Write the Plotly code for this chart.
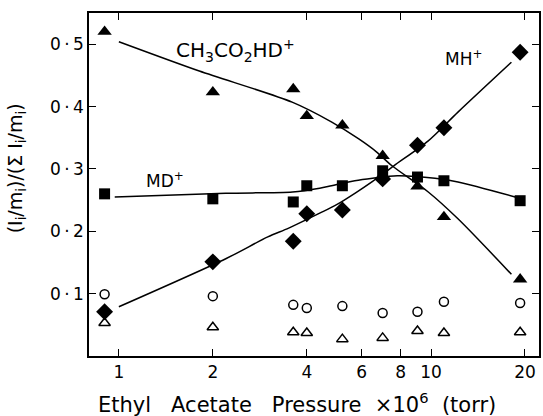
import plotly.graph_objects as go

# Data
pressure = [0.9, 2.0, 3.62, 4.0, 5.2, 7.0, 9.05, 11.0, 19.3]
ch3co2hd = [0.520, 0.423, 0.428, 0.385, 0.370, 0.321, 0.272, 0.223, 0.123]
mh = [0.071, 0.151, 0.184, 0.228, 0.234, 0.284, 0.338, 0.366, 0.487]
md = [0.260, 0.252, 0.247, 0.273, 0.273, 0.297, 0.287, 0.281, 0.249]
open_circle = [0.099, 0.096, 0.082, 0.077, 0.080, 0.069, 0.071, 0.087, 0.085]
open_triangle = [0.053, 0.046, 0.038, 0.037, 0.027, 0.029, 0.040, 0.037, 0.038]

# Hand-drawn smooth curves
fit_ch3_x = [1.0, 1.81, 3.59, 4.81, 5.87, 6.7, 7.5, 9.8, 12.2, 18.1]
fit_ch3_y = [0.504, 0.457, 0.407, 0.375, 0.348, 0.327, 0.305, 0.263, 0.220, 0.131]
fit_mh_x = [1.0, 2.2, 3.0, 3.5, 4.4, 5.0, 5.75, 6.5, 7.6, 9.8, 12.2, 18.1]
fit_mh_y = [0.079, 0.156, 0.191, 0.205, 0.229, 0.243, 0.262, 0.280, 0.305, 0.345, 0.391, 0.471]
fit_md_x = [0.97, 2.2, 3.6, 4.4, 4.8, 5.7, 6.5, 7.8, 10.3, 12.2, 18.6]
fit_md_y = [0.255, 0.261, 0.263, 0.269, 0.273, 0.281, 0.285, 0.289, 0.285, 0.279, 0.255]

x_ticks = [1, 2, 4, 6, 8, 10, 20]
y_ticks = [0.1, 0.2, 0.3, 0.4, 0.5]
y_ticktext = ["0\u2009·\u20091", "0\u2009·\u20092", "0\u2009·\u20093", "0\u2009·\u20094", "0\u2009·\u20095"]

FONT = "DejaVu Sans"

fig = go.Figure()

for fx, fy in [(fit_ch3_x, fit_ch3_y), (fit_mh_x, fit_mh_y), (fit_md_x, fit_md_y)]:
    fig.add_trace(go.Scatter(x=fx, y=fy, mode="lines",
                             line=dict(color="black", width=1.5, shape="spline", smoothing=0.8),
                             hoverinfo="skip"))

fig.add_trace(go.Scatter(x=pressure, y=open_circle, mode="markers",
                         marker=dict(symbol="circle-open", size=9, color="black",
                                     line=dict(width=1.5, color="black"))))
fig.add_trace(go.Scatter(x=pressure, y=open_triangle, mode="markers",
                         marker=dict(symbol="triangle-up-open", size=10, color="black",
                                     line=dict(width=1.5, color="black"))))
fig.add_trace(go.Scatter(x=pressure, y=md, mode="markers",
                         marker=dict(symbol="square", size=11, color="black")))
fig.add_trace(go.Scatter(x=pressure, y=ch3co2hd, mode="markers",
                         marker=dict(symbol="triangle-up", size=12.5, color="black")))
fig.add_trace(go.Scatter(x=pressure, y=mh, mode="markers",
                         marker=dict(symbol="diamond", size=13, color="black")))

axis_common = dict(showgrid=False, zeroline=False, showline=True, linecolor="black",
                   linewidth=1.5, mirror="allticks", ticks="inside", ticklen=7,
                   tickwidth=1.2, tickcolor="black",
                   tickfont=dict(family=FONT, size=17, color="black"))

fig.update_xaxes(type="log", range=[-0.0957, 1.346], tickvals=x_ticks,
                 ticktext=[str(v) for v in x_ticks], **axis_common)
fig.update_yaxes(range=[0.0, 0.55], tickvals=y_ticks, ticktext=y_ticktext, **axis_common)

annotations = [
    dict(text="CH<sub>3</sub>CO<sub>2</sub>HD<sup>+</sup>", x=0.325, y=0.892, size=20),
    dict(text="MH<sup>+</sup>", x=0.832, y=0.869, size=17),
    dict(text="MD<sup>+</sup>", x=0.168, y=0.513, size=17),
    dict(text="Ethyl   Acetate   Pressure  ×10<sup>6</sup>  (torr)", x=0.462, y=-0.137, size=21),
    dict(text="(I<sub>i</sub>/m<sub>i</sub>)/(Σ I<sub>i</sub>/m<sub>i</sub>)", x=-0.1615, y=0.548,
         size=19, textangle=-90),
]
for a in annotations:
    size = a.pop("size")
    fig.add_annotation(xref="paper", yref="paper", showarrow=False,
                       xanchor="center", yanchor="middle",
                       font=dict(family=FONT, size=size, color="black"), **a)

fig.update_layout(width=543, height=416, showlegend=False,
                  margin=dict(l=89, r=2, t=13, b=60),
                  paper_bgcolor="white", plot_bgcolor="white",
                  font=dict(family=FONT, color="black"))

fig.write_html("out.html", config={"displayModeBar": False},
               post_script="document.body.style.margin='0';document.body.style.padding='0';"
                           "document.body.style.overflow='hidden';")
